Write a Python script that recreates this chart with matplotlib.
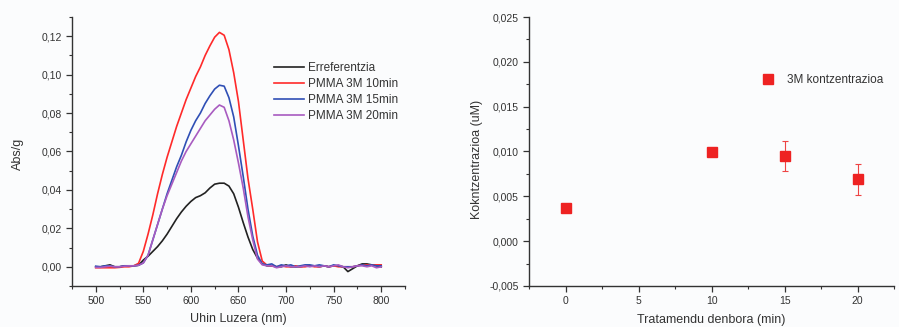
import numpy as np
import matplotlib
matplotlib.use('Agg')
import matplotlib.pyplot as plt
from matplotlib.ticker import MultipleLocator, FuncFormatter

plt.rcParams['font.family'] = ['Liberation Sans', 'DejaVu Sans']

# --- left panel: absorbance spectra (5 nm steps, 500-800 nm) ---
wavelength = np.arange(500, 805, 5)

abs_ref = [0.0, 0.0, 0.0005, 0.001, 0.0, 0.0, 0.0005, 0.0005, 0.0005, 0.0008,
           0.0035, 0.0055, 0.008, 0.0105, 0.0135, 0.017, 0.021, 0.025, 0.0285, 0.0315,
           0.034, 0.036, 0.037, 0.0385, 0.041, 0.043, 0.0435, 0.0435, 0.042, 0.038,
           0.031, 0.023, 0.0155, 0.009, 0.0045, 0.0015, 0.0005, 0.0005, 0.0, 0.0,
           0.001, 0.0, 0.0, 0.0, 0.0005, 0.0005, 0.0005, 0.0, 0.0005, 0.0,
           0.0005, 0.0005, 0.0, -0.0025, -0.001, 0.0005, 0.0015, 0.0015, 0.001, 0.0005,
           0.0]
abs_10 = [-0.0005, -0.0005, -0.0005, -0.0005, -0.0005, -0.0003, 0.0, 0.0, 0.0005, 0.0018,
          0.008, 0.017, 0.027, 0.038, 0.048, 0.057, 0.065, 0.073, 0.080, 0.087,
          0.093, 0.099, 0.104, 0.110, 0.115, 0.1195, 0.122, 0.1205, 0.113, 0.101,
          0.086, 0.066, 0.046, 0.030, 0.013, 0.003, 0.0008, 0.0005, 0.0, 0.0005,
          0.0, 0.0, 0.0005, 0.0, 0.0, 0.0005, 0.0, 0.0, 0.0005, 0.0,
          0.0005, 0.0, 0.0, 0.0, 0.0, 0.0005, 0.001, 0.001, 0.001, 0.001,
          0.001]
abs_15 = [0.0003, 0.0, 0.0005, 0.0005, 0.0, 0.0, 0.0005, 0.0005, 0.0005, 0.0008,
          0.002, 0.006, 0.014, 0.022, 0.030, 0.038, 0.045, 0.052, 0.058, 0.065,
          0.071, 0.076, 0.080, 0.085, 0.089, 0.0925, 0.0945, 0.094, 0.088, 0.078,
          0.063, 0.047, 0.030, 0.016, 0.006, 0.0015, 0.001, 0.0015, 0.0, 0.001,
          0.0005, 0.001, 0.0, 0.0005, 0.001, 0.001, 0.0005, 0.001, 0.0005, 0.0,
          0.001, 0.0005, 0.0, 0.0, 0.0, 0.0005, 0.001, 0.0005, 0.001, 0.0005,
          0.0005]
abs_20 = [-0.0003, -0.0003, 0.0, 0.0003, 0.0, 0.0, 0.0003, 0.0005, 0.0005, 0.0008,
          0.002, 0.006, 0.014, 0.022, 0.030, 0.037, 0.043, 0.049, 0.055, 0.060,
          0.064, 0.068, 0.072, 0.076, 0.079, 0.082, 0.0842, 0.083, 0.076, 0.066,
          0.054, 0.041, 0.026, 0.014, 0.004, 0.001, 0.0005, 0.0005, -0.0005, 0.0,
          0.0005, 0.0, 0.0, 0.0, 0.0005, 0.0, 0.0005, 0.0, 0.0005, 0.0,
          0.0005, 0.001, 0.0, -0.0005, 0.0, 0.0005, 0.0005, 0.0, 0.0005, -0.0005,
          0.0]

spectra_labels = ['Erreferentzia', 'PMMA 3M 10min', 'PMMA 3M 15min', 'PMMA 3M 20min']
spectra_colors = ['#222222', '#ff2a2a', '#2f4fb5', '#a85bc0']

# --- right panel: concentration vs treatment time ---
time_min = [0, 10, 15, 20]
conc = [0.0037, 0.0099, 0.0095, 0.0069]
conc_err = [0.0, 0.0002, 0.0017, 0.0017]

fig = plt.figure(figsize=(8.99, 3.27), dpi=100)
fig.patch.set_facecolor('#fbfcfd')

ax1 = fig.add_axes([0.080, 0.1254, 0.3705, 0.8226])
ax2 = fig.add_axes([0.5888, 0.1254, 0.4056, 0.8226])

for ax in (ax1, ax2):
    ax.set_facecolor('#fbfcfd')
    for s in ('top', 'right'):
        ax.spines[s].set_visible(False)
    for s in ('left', 'bottom'):
        ax.spines[s].set_color('#333333')
        ax.spines[s].set_linewidth(1.0)
    ax.tick_params(which='major', direction='out', length=4, width=0.9,
                   colors='#333333', labelsize=7.5, labelcolor='#333333')
    ax.tick_params(which='minor', direction='out', length=2.5, width=0.8,
                   colors='#333333')

# left plot
for y, lab, col in zip([abs_ref, abs_10, abs_15, abs_20], spectra_labels, spectra_colors):
    ax1.plot(wavelength, y, color=col, lw=1.2, label=lab)

ax1.set_xlim(475, 825)
ax1.set_ylim(-0.01, 0.13)
ax1.xaxis.set_major_locator(MultipleLocator(50))
ax1.xaxis.set_minor_locator(MultipleLocator(25))
ax1.yaxis.set_major_locator(MultipleLocator(0.02))
ax1.yaxis.set_minor_locator(MultipleLocator(0.01))
ax1.xaxis.set_major_formatter(FuncFormatter(lambda v, p: f'{v:.0f}'))
ax1.yaxis.set_major_formatter(FuncFormatter(lambda v, p: f'{v:.2f}'.replace('.', ',')))
ax1.set_xlabel('Uhin Luzera (nm)', fontsize=9, color='#333333')
ax1.set_ylabel('Abs/g', fontsize=9, color='#333333')
ax1.xaxis.set_label_coords(0.50, -0.102)
ax1.yaxis.set_label_coords(-0.145, 0.49)
ax1.legend(loc='upper left', bbox_to_anchor=(0.607, 0.834), frameon=False,
           fontsize=8.5, handlelength=2.5, handletextpad=0.35, labelspacing=0.36,
           borderpad=0, borderaxespad=0, labelcolor='#333333')

# right plot
ax2.errorbar(time_min, conc, yerr=conc_err, fmt='none', ecolor='#ee4444',
             elinewidth=0.8, capsize=2, capthick=0.8)
ax2.plot(time_min, conc, 's', color='#ee2222', ms=6.5, label='3M kontzentrazioa')
ax2.set_xlim(-2.5, 22.5)
ax2.set_ylim(-0.005, 0.025)
ax2.xaxis.set_major_locator(MultipleLocator(5))
ax2.xaxis.set_minor_locator(MultipleLocator(2.5))
ax2.yaxis.set_major_locator(MultipleLocator(0.005))
ax2.yaxis.set_minor_locator(MultipleLocator(0.0025))
ax2.xaxis.set_major_formatter(FuncFormatter(lambda v, p: f'{v:.0f}'))
ax2.yaxis.set_major_formatter(FuncFormatter(lambda v, p: f'{v:.3f}'.replace('.', ',')))
ax2.set_xlabel('Tratamendu denbora (min)', fontsize=9, color='#333333')
ax2.set_ylabel('Kokntzentrazioa (uM)', fontsize=9, color='#333333')
ax2.xaxis.set_label_coords(0.50, -0.105)
ax2.yaxis.set_label_coords(-0.127, 0.47)
ax2.legend(loc='center left', bbox_to_anchor=(0.638, 0.766), frameon=False,
           fontsize=8.5, handlelength=1.0, handletextpad=1.1,
           borderpad=0, borderaxespad=0, labelcolor='#333333')

fig.savefig('out.png', dpi=100, facecolor=fig.get_facecolor())
